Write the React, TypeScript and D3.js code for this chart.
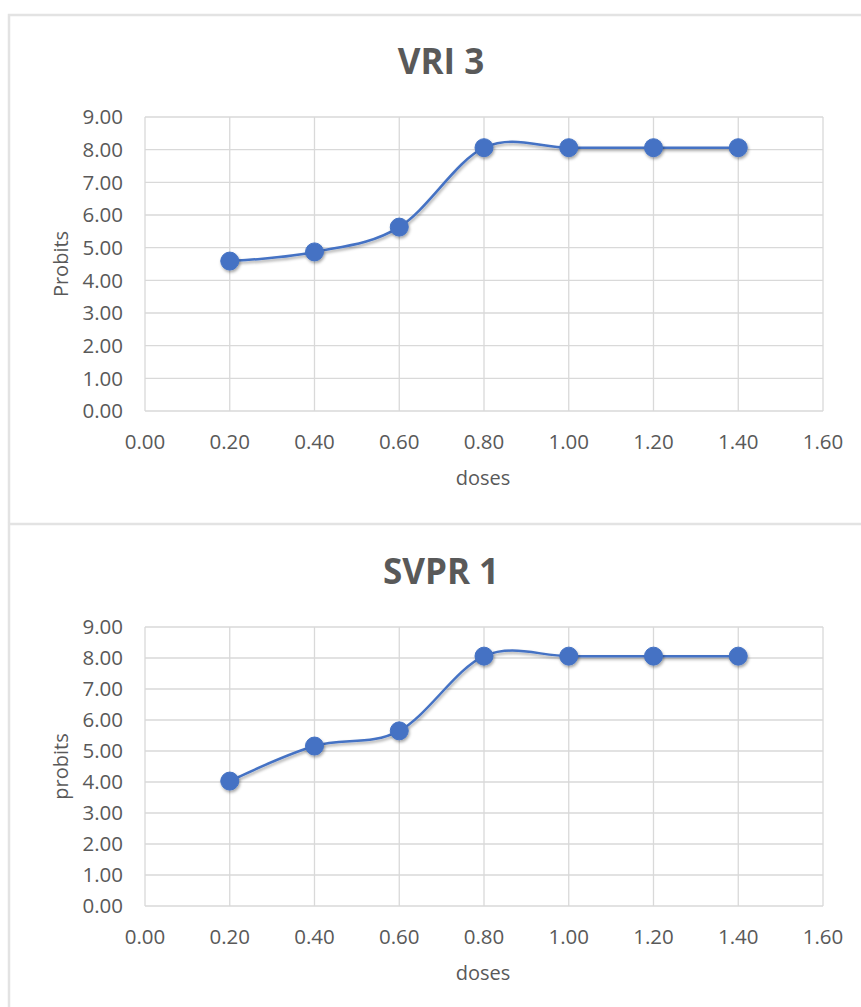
import * as d3 from 'd3'

const doses = [0.2, 0.4, 0.6, 0.8, 1.0, 1.2, 1.4]
const vriProbits = [4.59, 4.87, 5.63, 8.06, 8.06, 8.06, 8.06]
const svprProbits = [4.03, 5.16, 5.65, 8.06, 8.06, 8.06, 8.06]
const xTicks = [0, 0.2, 0.4, 0.6, 0.8, 1.0, 1.2, 1.4, 1.6]
const yTicks = [0, 1, 2, 3, 4, 5, 6, 7, 8, 9]

const FONT = "'Open Sans', 'Noto Sans', sans-serif"
const TEXT = '#595959'
const GRID = '#d9d9d9'
const BLUE = '#4472c4'

type ChartProps = {
  title: string
  yLabel: string
  values: number[]
  top: number
  bottom: number
}

const Chart = ({ title, yLabel, values, top, bottom }: ChartProps) => {
  const left = 145
  const right = 823
  const x = d3.scaleLinear().domain([0, 1.6]).range([left, right])
  const y = d3.scaleLinear().domain([0, 9]).range([bottom, top])

  const pts = doses.map((d, i) => [d, values[i]] as [number, number])
  const line = d3
    .line<[number, number]>()
    .x((d) => x(d[0]))
    .y((d) => y(d[1]))
    .curve(d3.curveCardinal.tension(0))

  return (
    <g>
      <text x={(left + right) / 2 - 43} y={top - 43} textAnchor="middle" fontSize={35} fontWeight="bold" fill={TEXT} style={{ fontFamily: FONT }}>
        {title}
      </text>
      {yTicks.map((t) => (
        <line key={'gy' + t} x1={left} x2={right} y1={y(t)} y2={y(t)} stroke={GRID} strokeWidth={1.3} />
      ))}
      {xTicks.map((t) => (
        <line key={'gx' + t} x1={x(t)} x2={x(t)} y1={top} y2={bottom} stroke={GRID} strokeWidth={1.3} />
      ))}
      {yTicks.map((t) => (
        <text key={'ty' + t} x={123} y={y(t)} dy="0.36em" textAnchor="end" fontSize={20.5} fill={TEXT} style={{ fontFamily: FONT }}>
          {t.toFixed(2)}
        </text>
      ))}
      {xTicks.map((t) => (
        <text key={'tx' + t} x={x(t)} y={bottom + 31} dy="0.36em" textAnchor="middle" fontSize={20.5} fill={TEXT} style={{ fontFamily: FONT }}>
          {t.toFixed(2)}
        </text>
      ))}
      <text x={(left + right) / 2 - 1} y={bottom + 67} dy="0.36em" textAnchor="middle" fontSize={20} fill={TEXT} style={{ fontFamily: FONT }}>
        doses
      </text>
      <text
        transform={`translate(61,${(top + bottom) / 2}) rotate(-90)`}
        dy="0.36em"
        textAnchor="middle"
        fontSize={20}
        fill={TEXT}
        style={{ fontFamily: FONT }}
      >
        {yLabel}
      </text>
      <path d={line(pts) || ''} fill="none" stroke={BLUE} strokeWidth={2.5} filter="url(#shadow)" />
      {pts.map((p, i) => (
        <circle key={'c' + i} cx={x(p[0])} cy={y(p[1])} r={9} fill={BLUE} stroke={BLUE} strokeWidth={1} filter="url(#shadow)" />
      ))}
    </g>
  )
}

export default function App() {
  return (
    <svg
      width={861}
      height={1007}
      style={{ position: 'absolute', left: 0, top: 0, background: '#fff' }}
    >
      <defs>
        <filter id="shadow" x="-50%" y="-50%" width="200%" height="200%">
          <feDropShadow dx={1} dy={2} stdDeviation={1.6} floodColor="#000" floodOpacity={0.35} />
        </filter>
      </defs>
      <rect x={0} y={0} width={861} height={1007} fill="#fff" />
      <path d="M9,1007 V524 H861" fill="none" stroke="#e3e3e3" strokeWidth={2.5} />
      <path d="M9,523 V15 H861" fill="none" stroke="#e3e3e3" strokeWidth={2.5} />
      <Chart title="VRI 3" yLabel="Probits" values={vriProbits} top={117} bottom={411} />
      <Chart title="SVPR 1" yLabel="probits" values={svprProbits} top={627} bottom={906} />
    </svg>
  )
}
